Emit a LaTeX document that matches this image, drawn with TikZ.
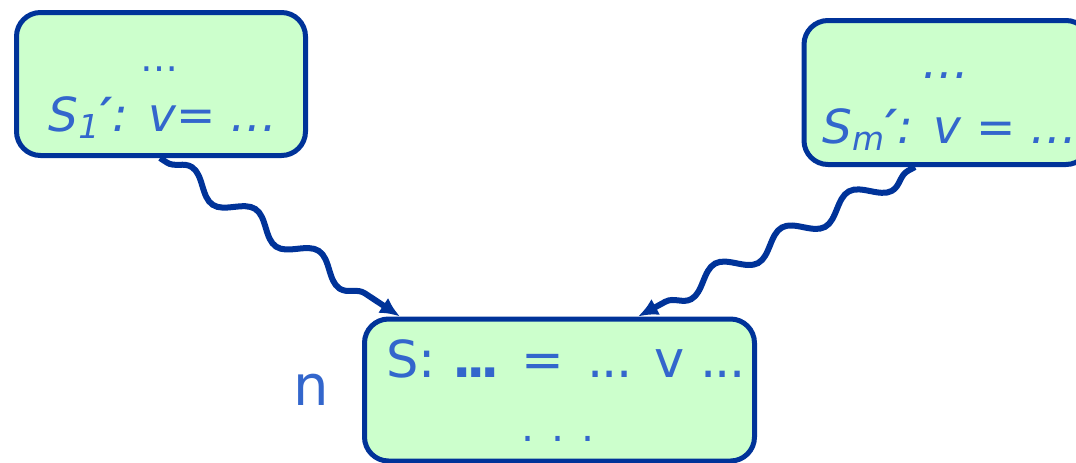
\documentclass[tikz,border=0pt]{standalone}
\usepackage{fontspec}
\setmainfont{DejaVu Sans}
\usetikzlibrary{arrows.meta,decorations.pathmorphing}

\definecolor{boxblue}{HTML}{003399}
\definecolor{txtblue}{HTML}{3366CC}
\definecolor{boxgreen}{HTML}{CCFFCC}

% narrow three dots
\newcommand\stmtdots[1][-0.035em]{.\kern#1.\kern#1.}

\begin{document}
\begin{tikzpicture}[
  x=0.5pt, y=-0.5pt,
  stmt/.style={
    draw=boxblue, fill=boxgreen, line width=2.5pt,
    rounded corners=12pt, inner sep=0pt
  },
  txt/.style ={text=txtblue, inner sep=0pt, anchor=base},
  big/.style ={txt, font=\fontsize{25.5}{30}\selectfont},
  itl/.style ={txt, font=\fontsize{23.5}{28}\selectfont\itshape},
  wavy/.style={
    -{Latex[length=10pt,width=9pt]}, draw=boxblue, line width=3pt,
    decorate, decoration={snake, amplitude=5pt, segment length=38pt,
      pre length=4pt, post length=11pt}
  }
]
\clip (0,0) rectangle (1076,462);

% =================== STATEMENT BOXES ===================
\node[stmt, minimum width=144.5pt, minimum height=71.5pt] (s1) at (161, 84)    {};
\node[stmt, minimum width=143pt,   minimum height=72pt]   (sm) at (947, 92.5)  {};
\node[stmt, minimum width=195pt,   minimum height=71pt]   (s)  at (559.5, 390) {};

% =================== TEXTS ===================
\node[txt, font=\fontsize{19}{22}\selectfont] (s1dots) at (159, 71) {…};
\node[itl] (s1def) at (163, 131) {S\textsubscript{1}\textbf{′}: v= …};

\node[itl] (smdots) at (946, 78) {…};
\node[itl, anchor=base west] (smdef) at (822, 143) {S\textsubscript{m}\textbf{′}: v = …};

\node[big, anchor=base west] (suse) at (386, 377)
  {S: \textbf{\stmtdots[-0.1em]} =\hspace{0.45em}\stmtdots{} v \stmtdots};
\node[txt, font=\fontsize{20.5}{24}\selectfont] (sdots) at (558, 441) {. . .};

\node[txt, font=\fontsize{28}{32}\selectfont] (n) at (311, 405) {n};

% =================== ARROWS ===================
\draw[wavy] ([xshift=-0.5pt]s1.south) -- ([xshift=-79.75pt]s.north);
\draw[wavy] ([xshift=-16pt]sm.south)  -- ([xshift=39.25pt]s.north);

\end{tikzpicture}
\end{document}
